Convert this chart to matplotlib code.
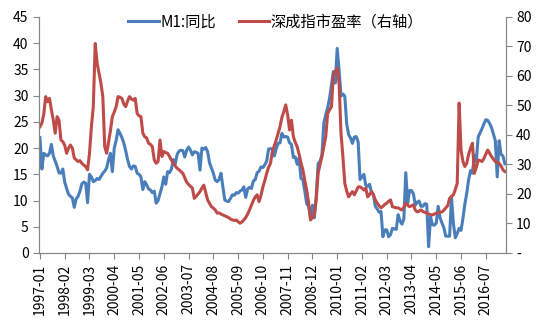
import numpy as np
import matplotlib.pyplot as plt

plt.rcParams['font.family'] = ['Noto Sans CJK SC', 'DejaVu Sans']

# month labels, 1997-01 .. 2017-05
months = [f"{1997 + k // 12}-{k % 12 + 1:02d}" for k in range(245)]

# M1 yoy (%), left axis
m1 = [
    22, 16, 19, 18.7, 18.5, 19, 20.7, 18.5, 17.5, 16.5, 15.3, 15.2,
    16.0, 13.5, 12.3, 11.2, 10.8, 10.5, 8.7, 10.3, 10.8, 11.8, 13.2, 13.5,
    13.3, 9.6, 15.0, 14.5, 13.6, 13.8, 14.2, 14.0, 14.6, 15.2, 15.6, 16.2,
    17.8, 19.0, 15.5, 20.0, 21.5, 23.5, 22.8, 22.0, 21.0, 19.5, 17.8, 16.5,
    16.0, 16.6, 16.5, 15.2, 15.0, 14.5, 12.1, 13.6, 13.0, 12.2, 12.0, 11.5,
    11.8, 9.5, 10.0, 11.3, 12.6, 14.5, 13.1, 15.5, 15.3, 16.0, 17.8, 17.0,
    18.8, 19.4, 19.6, 19.5, 18.3, 19.6, 20.2, 19.6, 18.7, 19.3, 19.2, 19.0,
    15.8, 20.0, 19.8, 20.1, 19.3, 17.2, 16.2, 15.2, 13.9, 13.6, 14.0, 15.2,
    12.7, 10.1, 9.9, 9.8, 10.4, 11.1, 11.0, 11.5, 11.4, 11.8, 12.0, 12.6,
    10.6, 12.2, 12.5, 12.3, 13.7, 14.0, 15.3, 15.6, 16.4, 16.3, 16.8, 17.5,
    19.8, 19.9, 19.8, 18.5, 19.9, 20.9, 21.0, 22.8, 22.1, 22.2, 22.1, 21.0,
    20.7, 18.2, 18.3, 16.9, 18.1, 14.2, 14.0, 11.8, 9.4, 8.9, 6.8, 9.1,
    6.7, 10.9, 17.0, 17.5, 18.7, 24.8, 26.4, 27.7, 29.5, 32.0, 34.6, 32.4,
    39.0, 34.9, 29.9, 30.3, 29.9, 24.6, 22.6, 21.9, 20.9, 22.1, 22.2, 21.2,
    14.0, 14.5, 15.0, 12.9, 12.7, 13.1, 11.6, 11.2, 8.9, 8.4, 7.8, 7.9,
    3.1, 4.4, 4.4, 3.1, 3.5, 4.7, 4.6, 4.5, 7.3, 6.1, 5.5, 6.5,
    15.3, 9.5, 11.9, 11.9, 11.3, 9.1, 9.7, 9.9, 8.9, 8.9, 9.4, 9.3,
    1.2, 6.9, 5.4, 5.3, 5.7, 8.9, 6.7, 5.7, 4.8, 3.2, 3.2, 3.2,
    10.6, 5.6, 2.9, 3.7, 4.7, 4.3, 6.6, 9.3, 11.4, 14.0, 15.7, 15.2,
    18.6, 17.4, 22.1, 22.9, 23.7, 24.6, 25.4, 25.3, 24.7, 23.9, 22.7, 21.4,
    14.5, 21.4, 18.8, 18.5, 17.0,
]

# Shenzhen component index P/E, right axis
pe = [
    42.8, 44, 47, 53, 51.3, 52.4, 48.5, 45, 40.6, 46.2, 45, 38.3,
    37.7, 36.5, 33.8, 35.5, 36.6, 35.5, 32.2, 31.6, 31, 31.3, 30.4, 29.8,
    29.3, 28.2, 33.8, 42.8, 49.6, 71, 64.3, 61, 57.5, 53, 36, 33.8,
    37.5, 41.5, 46.2, 47.8, 49.6, 53, 52.8, 52.4, 50.5, 49.6, 51.5, 53,
    52.2, 51.8, 52.4, 47.3, 46.5, 46.2, 40.6, 39.4, 39, 37.2, 36.8, 36,
    31.5, 30.4, 31, 38.3, 32.7, 34.4, 34, 33.8, 32.7, 31.5, 30.4, 29.5,
    28.7, 28.2, 27.6, 27, 25.5, 24, 23.2, 22.6, 22, 18.5, 19.2, 20,
    20.8, 22, 23, 20.5, 18, 16.8, 15.7, 15.2, 14.6, 13.5, 13.6, 13.2,
    12.9, 12.6, 12.3, 12.0, 11.5, 11.2, 11.0, 11.2, 10.6, 10.1, 10.5, 11.2,
    12, 13.2, 14.6, 16.2, 17.8, 19, 19.7, 17.4, 19.5, 22.4, 24.5, 27,
    29, 30.4, 34.4, 36.3, 38.3, 40.5, 42.8, 46, 47.9, 50.2, 46.8, 41.7,
    45, 39.4, 37.5, 36, 33.5, 30.5, 28.2, 24.5, 21.3, 17, 11.2, 12,
    12.9, 18, 27, 30, 32.7, 36, 39.4, 47.3, 48.5, 49.6, 60.3, 61.5,
    62.6, 57.5, 40.6, 32.7, 23.6, 21, 19, 20, 20.8, 19.7, 21, 22.4,
    22.4, 22, 21.3, 22, 19, 19.8, 20.8, 19.7, 18, 16.9, 16, 15.3,
    15.8, 16.5, 16.9, 17.5, 18, 15.7, 15.5, 15.3, 15.3, 14.9, 14.6, 15.5,
    16.9, 16.2, 15.7, 16.0, 16.3, 14.5, 13.9, 14.2, 14.6, 14, 13.8, 13.5,
    13.2, 13, 12.9, 13.2, 13.5, 13.6, 13.8, 13.9, 14.5, 15.3, 16, 18.5,
    19.2, 19.7, 21.5, 23.6, 50.8, 34.9, 31, 29.3, 30.4, 33.5, 35.5, 37.2,
    27, 29, 31.5, 31.3, 31, 32, 33.5, 34.9, 33.8, 32.7, 31.8, 31,
    30.7, 30.4, 29.5, 28.2, 27.6,
]

left_ticks = list(range(0, 50, 5))
right_ticks = list(range(0, 90, 10))
right_labels = ["-"] + [str(v) for v in right_ticks[1:]]

blue = "#4A7EBB"
red = "#BE4B48"
grey = "#868686"

fig = plt.figure(figsize=(5.54, 3.26), dpi=100)
ax = fig.add_axes([0.0704, 0.224, 0.8426, 0.724])
ax2 = ax.twinx()  # drawn above ax, so the red line sits on top

x = np.arange(len(months))
l1, = ax.plot(x, m1, color=blue, lw=2.2, label="M1:同比")
l2, = ax2.plot(x, pe, color=red, lw=2.2, label="深成指市盈率（右轴）")

ax.set_xlim(-0.5, len(months) - 0.5)
ax.set_ylim(0, 45)
ax2.set_ylim(0, 80)
ax.set_yticks(left_ticks)
ax2.set_yticks(right_ticks)
ax2.set_yticklabels(right_labels)

tick_pos = x[::13]
ax.set_xticks(tick_pos)
ax.set_xticklabels([months[i] for i in tick_pos], rotation=90)

for a in (ax, ax2):
    for s in a.spines.values():
        s.set_color(grey)
        s.set_linewidth(0.8)
    a.spines['top'].set_visible(False)
    a.tick_params(colors=grey, labelcolor="black", labelsize=10, length=4, width=0.8)

ax2.legend(handles=[l1, l2], loc="center", bbox_to_anchor=(0.507, 0.979),
           ncol=2, frameon=False, fontsize=11, handlelength=2.0,
           handletextpad=0.1, columnspacing=1.5, borderaxespad=0)

fig.savefig("out.png", dpi=100)
